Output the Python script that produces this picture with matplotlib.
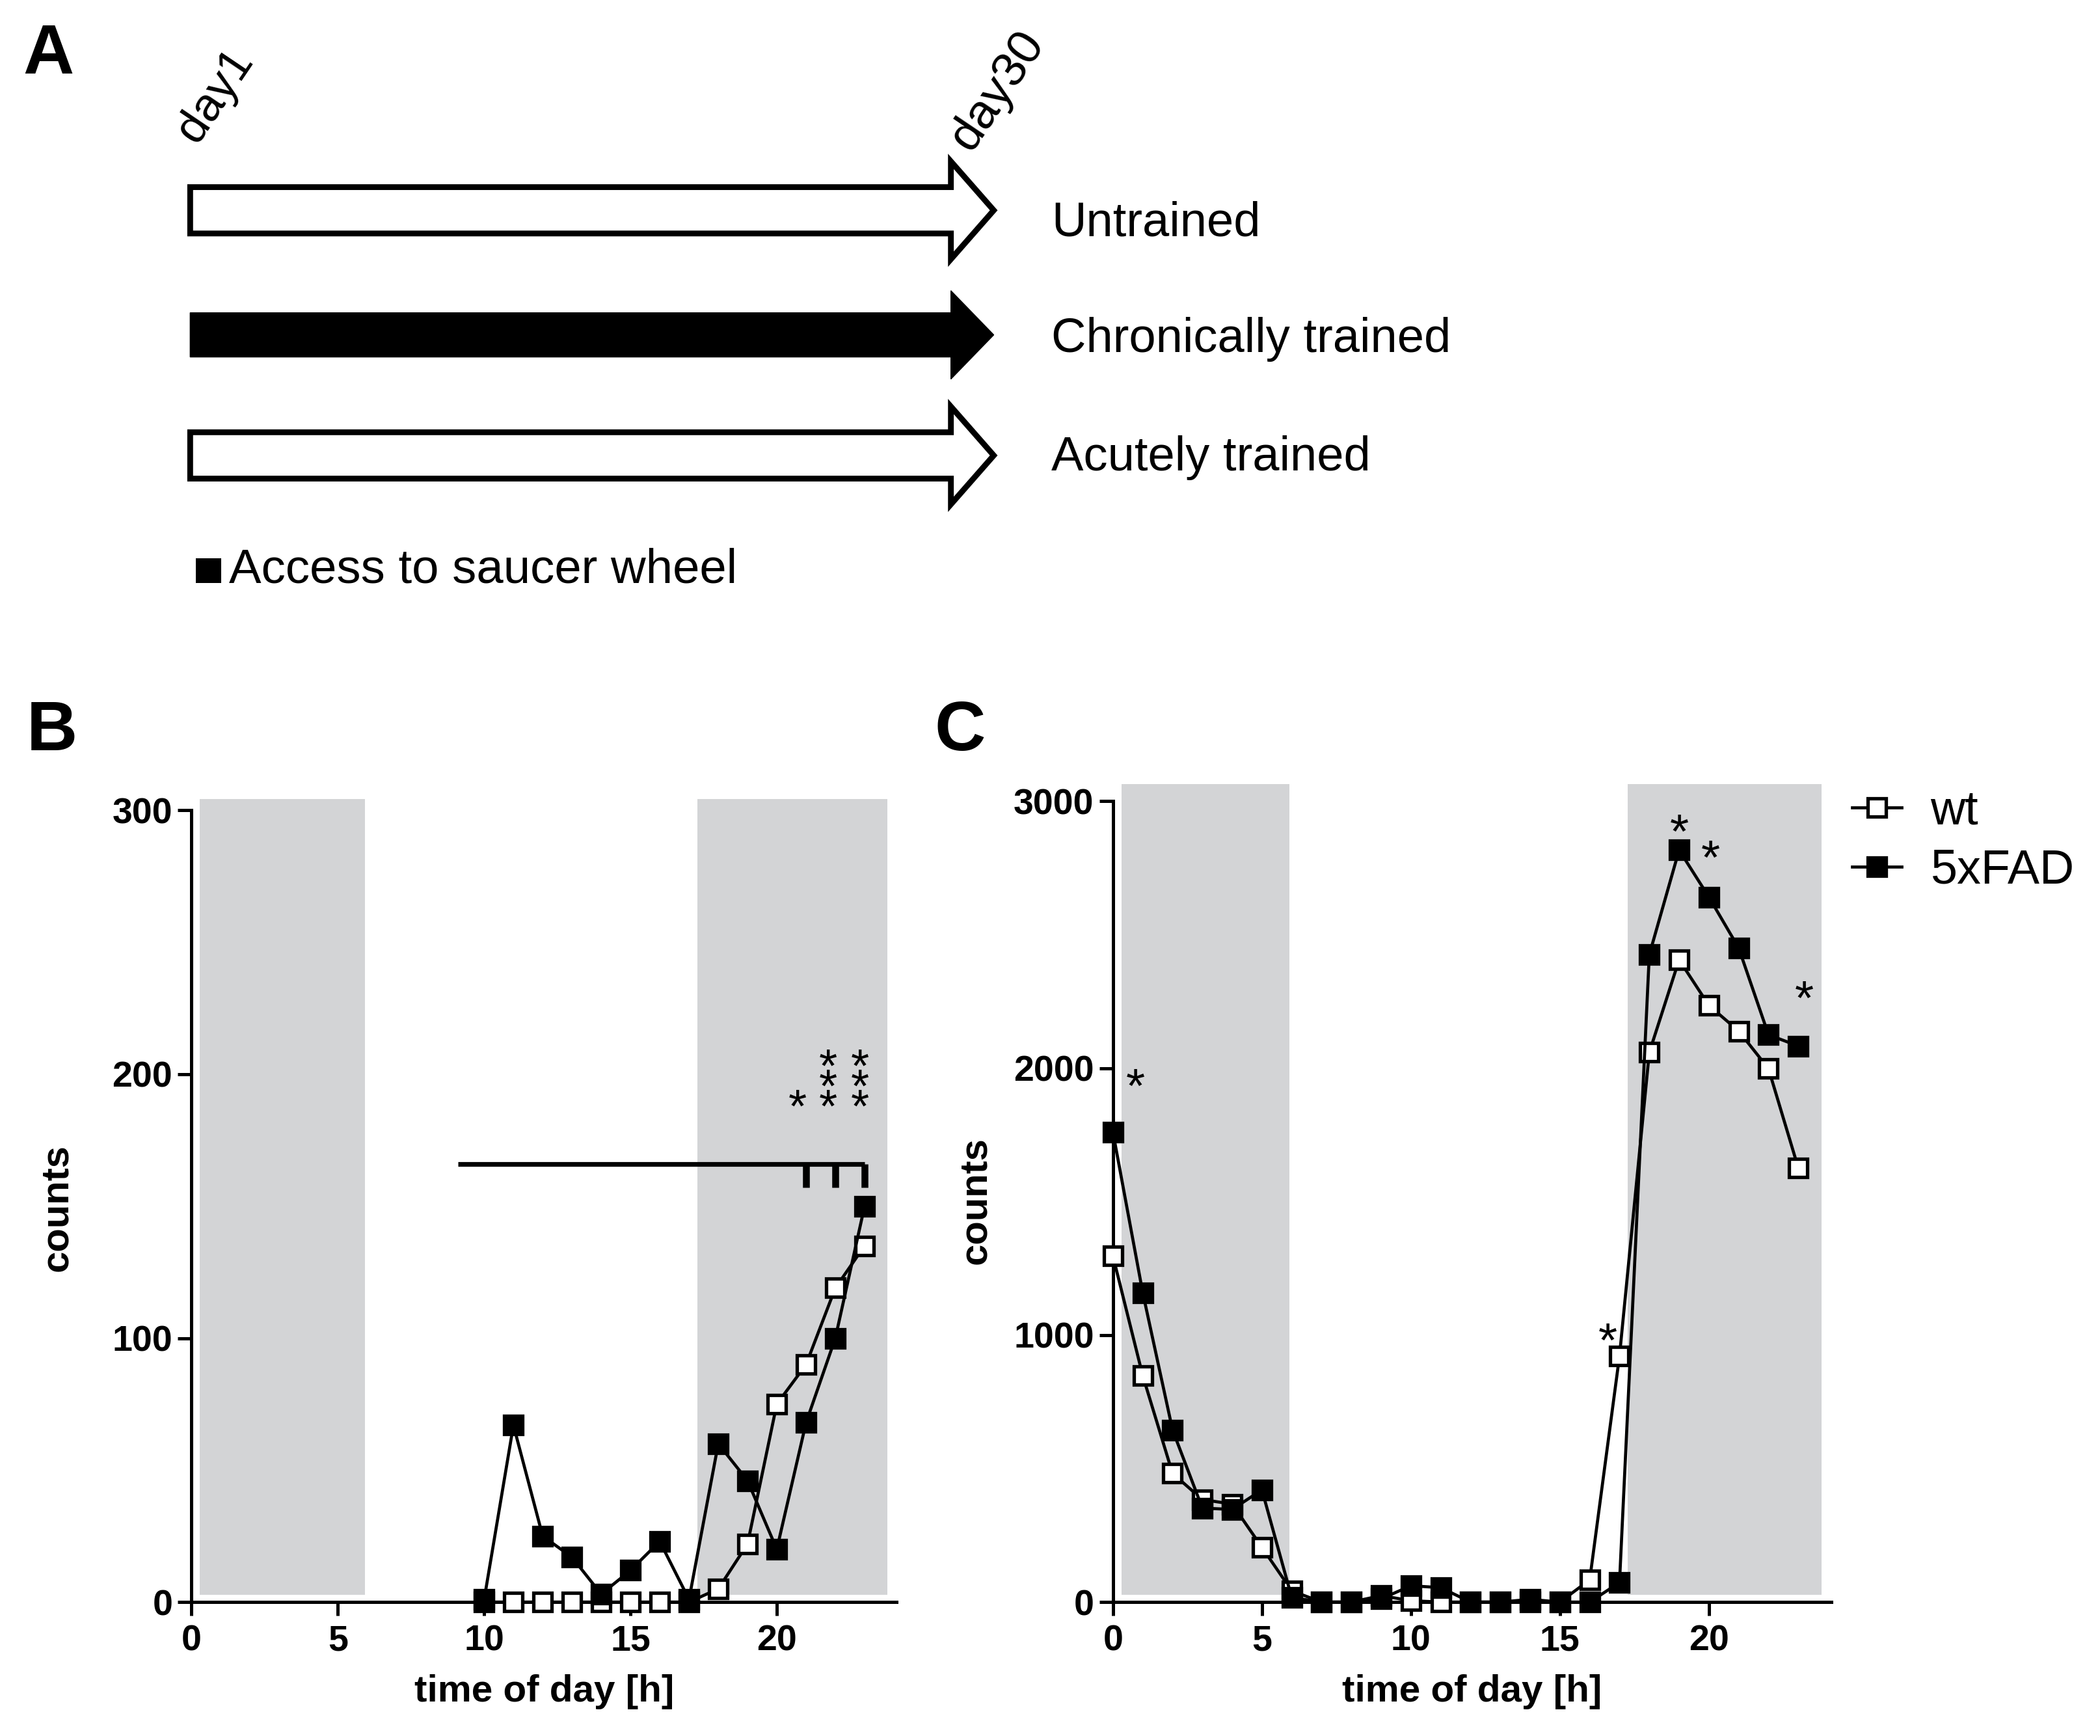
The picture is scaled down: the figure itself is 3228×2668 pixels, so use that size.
import matplotlib
matplotlib.use("Agg")
import matplotlib.pyplot as plt
from matplotlib.patches import Polygon, Rectangle

plt.rcParams['font.family'] = ['Liberation Sans', 'DejaVu Sans']

# ---- data -------------------------------------------------------------
# panel A: training schedule
groups = ["Untrained", "Chronically trained", "Acutely trained"]
wheel_access = [False, True, False]
start_label = "day1"
end_label = "day30"
access_label = "Access to saucer wheel"

# panel B: wheel counts per hour (acute session)
hours_b = [10, 11, 12, 13, 14, 15, 16, 17, 18, 19, 20, 21, 22, 23]
wt_b = [0, 0, 0, 0, 0, 0, 0, 0, 5, 22, 75, 90, 119, 135]
fad_b = [1, 67, 25, 17, 3, 12, 23, 1, 60, 46, 20, 68, 100, 150]
sig_x_b = [20.7, 21.75, 22.85]
sig_b = ["*", "***", "***"]
sig_bar_b = (9.1, 23, 166)          # start, end, height of bracket
sig_ticks_b = [21, 22, 23]

# panel C: wheel counts per hour (chronic)
hours_c = list(range(24))
wt_c = [1296, 848, 482, 384, 367, 205, 42, 0, 0, 24, 5, 0, 0, 0, 0, 0,
        83, 922, 2059, 2406, 2235, 2139, 1998, 1626]
fad_c = [1760, 1159, 645, 352, 347, 420, 17, 0, 0, 12, 61, 54, 0, 0, 10, 0,
         0, 73, 2425, 2817, 2641, 2450, 2125, 2083]
sig_x_c = [0.75, 16.6, 19.0, 20.05, 23.2]
sig_y_c = [1973, 1020, 2927, 2829, 2303]

dark_phases = [(0.28, 5.92), (17.28, 23.78)]
series_names = ["wt", "5xFAD"]

# ---- figure -----------------------------------------------------------
W, H = 1568.0, 1296.0   # layout grid (reference pixels / 2.06)
fig = plt.figure(figsize=(16.14, 13.34), dpi=200)

def fx(x):
    return x / W

def fy(y):
    return 1 - y / H

# overlay axes in layout units for panel A and the panel letters
ax0 = fig.add_axes([0, 0, 1, 1])
ax0.set_xlim(0, W)
ax0.set_ylim(H, 0)
ax0.axis("off")

for letter, (lx, ly) in zip("ABC", [(17, 55), (20, 560), (698, 560)]):
    ax0.text(lx, ly, letter, fontsize=39, fontweight="bold", va="baseline")

x0, xh, xt = 142, 710, 742
row_y = [157, 250, 340]
label_base = [176, 263, 351]
for i, (name, filled) in enumerate(zip(groups, wheel_access)):
    yc = row_y[i]
    if filled:
        sh, hh = 16.5, 33
        pts = [(x0, yc - sh), (xh, yc - sh), (xh, yc - hh), (xt, yc),
               (xh, yc + hh), (xh, yc + sh), (x0, yc + sh)]
        ax0.add_patch(Polygon(pts, closed=True, fc="black", ec="black", lw=0.5))
    else:
        sh, hh = 17.3, 36.5
        pts = [(x0, yc - sh), (xh, yc - sh), (xh, yc - hh), (xt, yc),
               (xh, yc + hh), (xh, yc + sh), (x0, yc + sh)]
        ax0.add_patch(Polygon(pts, closed=True, fc="white", ec="black",
                              lw=3.2, joinstyle="miter"))
    ax0.text(785, label_base[i], name, fontsize=26.7, va="baseline")

ax0.text(147, 108, start_label, fontsize=26, rotation=56,
         rotation_mode="anchor", ha="left", va="baseline")
ax0.text(725, 114, end_label, fontsize=27, rotation=56,
         rotation_mode="anchor", ha="left", va="baseline")
ax0.add_patch(Rectangle((146, 417), 19, 18, fc="black", ec="none"))
ax0.text(171, 435, access_label, fontsize=26.8, va="baseline")


def style_axis(ax, ymax, ytop, yticks):
    ax.set_xlim(0, 24.1)
    ax.set_ylim(0, ytop)
    for s in ["top", "right"]:
        ax.spines[s].set_visible(False)
    for s in ["left", "bottom"]:
        ax.spines[s].set_linewidth(1.8)
    ax.spines["left"].set_bounds(0, ymax)
    ax.set_xticks([0, 5, 10, 15, 20])
    ax.set_yticks(yticks)
    ax.tick_params(direction="out", length=7.5, width=1.8, labelsize=20)
    ax.tick_params(axis="x", pad=5)
    ax.tick_params(axis="y", pad=3)
    for lab in ax.get_xticklabels() + ax.get_yticklabels():
        lab.set_fontweight("bold")
    ax.patch.set_alpha(0)
    for a, b in dark_phases:
        ax.add_patch(Rectangle((a, ytop * 0.009), b - a, ytop * 0.989,
                               fc="#d3d4d6", ec="none", zorder=0))
    ax.set_xlabel("time of day [h]", fontsize=21, fontweight="bold")
    ax.set_ylabel("counts", fontsize=21.5, fontweight="bold")


def draw_series(ax, hours, wt, fad):
    ax.plot(hours, wt, color="black", lw=1.7, marker="s", ms=10, mew=1.9,
            mfc="white", mec="black", clip_on=False, zorder=3, label=series_names[0])
    ax.plot(hours, fad, color="black", lw=1.7, marker="s", ms=10, mew=1.9,
            mfc="black", mec="black", clip_on=False, zorder=4, label=series_names[1])


def stars(ax, x, y_low, n, fs=26):
    # one text per column, anchored at the lowest star
    ax.annotate("\n".join("*" * n), (x, y_low), xytext=(0, -0.55 * fs),
                textcoords="offset points", ha="center", va="baseline",
                fontsize=fs, linespacing=0.31, zorder=5)


# panel B
ax_b = fig.add_axes([fx(143), fy(1196), 526.6 / W, 600.9 / H])
style_axis(ax_b, 300, 305, [0, 100, 200, 300])
draw_series(ax_b, hours_b, wt_b, fad_b)
a, b, h = sig_bar_b
ax_b.plot([a, b], [h, h], color="black", lw=2.6, solid_capstyle="butt")
for t in sig_ticks_b:
    ax_b.plot([t, t], [h, h - 9], color="black", lw=3.8, solid_capstyle="butt")
for xs, s in zip(sig_x_b, sig_b):
    stars(ax_b, xs, 191.6, len(s))
ax_b.yaxis.set_label_coords(-0.165, 0.49)
ax_b.xaxis.set_label_coords(0.5, -0.09)

# panel C
ax_c = fig.add_axes([fx(831), fy(1196), 536.2 / W, 611.8 / H])
style_axis(ax_c, 3000, 3070, [0, 1000, 2000, 3000])
draw_series(ax_c, hours_c, wt_c, fad_c)
for xs, ys in zip(sig_x_c, sig_y_c):
    stars(ax_c, xs, ys, 1, fs=27)
ax_c.yaxis.set_label_coords(-0.166, 0.49)
ax_c.xaxis.set_label_coords(0.5, -0.088)

ax_c.legend(loc="upper left", bbox_to_anchor=(fx(1383), fy(589)),
            bbox_transform=fig.transFigure, frameon=False, fontsize=26.5,
            borderpad=0, borderaxespad=0, handlelength=1.03,
            handletextpad=0.6, labelspacing=0.3, numpoints=1)

fig.savefig("out.png", dpi=200)
